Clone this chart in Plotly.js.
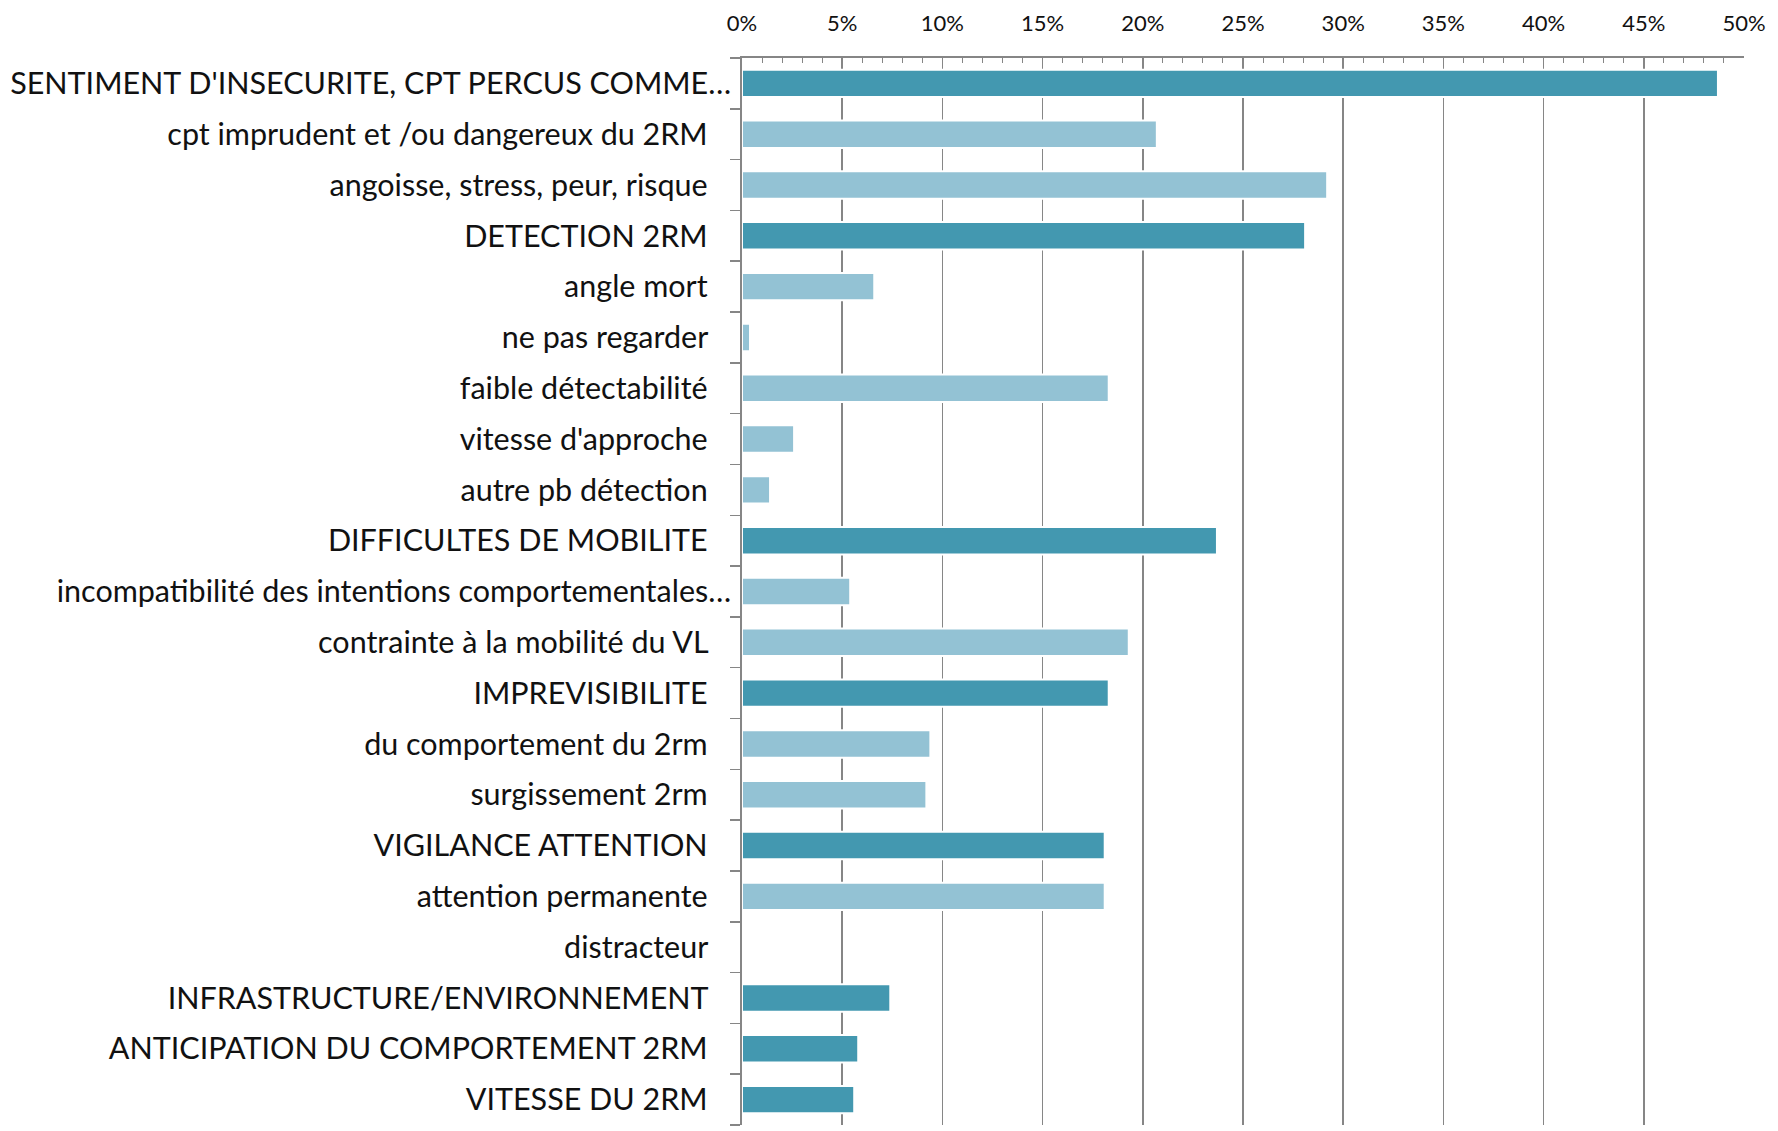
<!DOCTYPE html>
<html>
<head>
<meta charset="utf-8">
<script src="https://cdn.plot.ly/plotly-3.0.1.min.js"></script>
<style>
html, body { margin: 0; padding: 0; background: #ffffff; }
#chart { width: 1778px; height: 1131px; }
</style>
</head>
<body>
<div id="chart"></div>
<script>
const categories = [
  "SENTIMENT D'INSECURITE, CPT PERCUS COMME…",
  "cpt imprudent et /ou dangereux du 2RM",
  "angoisse, stress, peur, risque",
  "DETECTION 2RM",
  "angle mort",
  "ne pas regarder",
  "faible détectabilité",
  "vitesse d'approche",
  "autre pb détection",
  "DIFFICULTES DE MOBILITE",
  "incompatibilité des intentions comportementales…",
  "contrainte à la mobilité du VL",
  "IMPREVISIBILITE",
  "du comportement du 2rm",
  "surgissement 2rm",
  "VIGILANCE ATTENTION",
  "attention permanente",
  "distracteur",
  "INFRASTRUCTURE/ENVIRONNEMENT",
  "ANTICIPATION DU COMPORTEMENT 2RM",
  "VITESSE DU 2RM"
];
const values = [48.7, 20.7, 29.2, 28.1, 6.6, 0.4, 18.3, 2.6, 1.4, 23.7, 5.4, 19.3, 18.3, 9.4, 9.2, 18.1, 18.1, 0, 7.4, 5.8, 5.6];
const isMain = [true, false, false, true, false, false, false, false, false, true, false, false, true, false, false, true, false, false, true, true, true];
const xTicks = [0, 5, 10, 15, 20, 25, 30, 35, 40, 45, 50];

const darkColor = "#4398B0";
const lightColor = "#93C2D4";

// Excel lets truncated ("…") labels run closer to the axis than full labels
const yTickText = categories.map(c => c.endsWith("…") ? c : c + "\u00A0\u00A0\u00A0");

const trace = {
  type: "bar",
  orientation: "h",
  y: categories,
  x: values,
  marker: {
    color: isMain.map(m => m ? darkColor : lightColor),
    line: { color: "#ffffff", width: 2 }
  },
  width: 0.54,
  hoverinfo: "x+y"
};

const gridColor = "#868686";

const layout = {
  width: 1778,
  height: 1131,
  margin: { l: 742, r: 34, t: 58, b: 6, pad: 0 },
  paper_bgcolor: "#ffffff",
  plot_bgcolor: "#ffffff",
  showlegend: false,
  font: { family: "Lato, 'Noto Sans', sans-serif", color: "#111111" },
  xaxis: {
    side: "top",
    range: [0, 50],
    tickvals: xTicks,
    ticktext: xTicks.map(v => v + "%"),
    tickfont: { size: 22, family: "Lato, 'Noto Sans', sans-serif", color: "#111111" },
    showgrid: true,
    gridcolor: gridColor,
    gridwidth: 1.8,
    showline: true,
    linecolor: gridColor,
    linewidth: 1.8,
    ticks: "inside",
    ticklen: 6,
    tickcolor: gridColor,
    tickwidth: 1.5,
    ticklabelstandoff: 16,
    minor: { dtick: 1, ticks: "inside", ticklen: 5, tickcolor: gridColor, tickwidth: 1, showgrid: false },
    zeroline: false,
    fixedrange: true
  },
  yaxis: {
    type: "category",
    autorange: "reversed",
    tickmode: "array",
    tickvals: categories,
    ticktext: yTickText,
    tickfont: { size: 30.5, family: "Lato, 'Noto Sans', sans-serif", color: "#111111" },
    showline: true,
    linecolor: gridColor,
    linewidth: 1.8,
    ticks: "outside",
    tickson: "boundaries",
    ticklen: 10,
    tickcolor: gridColor,
    tickwidth: 1.5,
    ticklabelstandoff: 3,
    showgrid: false,
    zeroline: false,
    fixedrange: true
  },
  bargap: 0.46
};

Plotly.newPlot("chart", [trace], layout, { displayModeBar: false, staticPlot: true });
</script>
</body>
</html>
